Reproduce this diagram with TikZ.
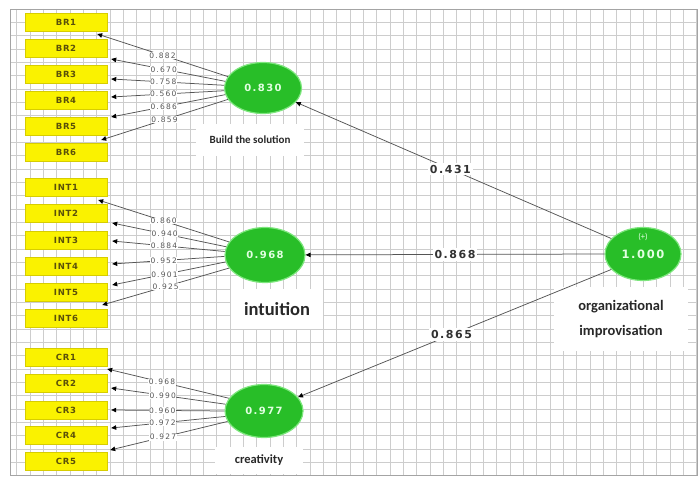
\documentclass[tikz,border=0pt]{standalone}
\usepackage{fontspec}
\setmainfont{Carlito}
\newfontfamily\boxfont{DejaVu Sans}[LetterSpace=8]
\newfontfamily\ldfont{DejaVu Sans}[LetterSpace=16]
\newfontfamily\bignum{DejaVu Sans}[LetterSpace=14]
\usetikzlibrary{arrows.meta,shapes.geometric,calc}
\definecolor{boxyellow}{RGB}{250,242,0}
\definecolor{boxedge}{RGB}{215,205,0}
\definecolor{boxtext}{RGB}{90,80,10}
\definecolor{latgreen}{RGB}{40,190,40}
\definecolor{latedge}{RGB}{125,230,125}
\definecolor{lattext}{RGB}{225,255,225}
\definecolor{linegray}{RGB}{85,85,85}
\definecolor{labgray}{RGB}{85,85,85}
\definecolor{pathtext}{RGB}{50,50,50}
\definecolor{gridc}{RGB}{205,205,205}
\definecolor{nametext}{RGB}{40,40,40}
\begin{document}
\begin{tikzpicture}[x=1pt,y=-1pt,
  gridline/.style={draw=gridc, line width=0.8pt},
  ind/.style={rectangle, fill=boxyellow, draw=boxedge, line width=0.4pt,
    minimum width=82pt, minimum height=18pt, inner sep=0pt, text=boxtext,
    font=\boxfont\bfseries\fontsize{8.5}{9}\selectfont},
  lat/.style={ellipse, fill=latgreen, draw=latedge, line width=1.2pt,
    minimum width=77pt, minimum height=51pt, inner sep=0pt, text=lattext,
    font=\bignum\bfseries\fontsize{10}{11}\selectfont},
  ld/.style={draw=linegray, line width=0.75pt,
    -{Triangle[length=5pt,width=4.5pt,color=black]}},
  ldlab/.style={fill=white, inner sep=0.5pt, text=labgray,
    font=\ldfont\fontsize{7.5}{8}\selectfont},
  pathlab/.style={fill=white, inner sep=2pt, text=pathtext,
    font=\bignum\bfseries\fontsize{11}{12}\selectfont},
  namebox/.style={fill=white, inner sep=0pt, align=center, text=nametext}
]
\useasboundingbox (0,0) rectangle (700,478);
% grid background
\fill[white] (10,9) rectangle (697,475);
\begin{scope}
\clip (10,9) rectangle (697,475);
\foreach \i in {0,...,52} \draw[gridline] ({3.33+13.333*\i},9) -- ({3.33+13.333*\i},475);
\foreach \j in {0,...,35} \draw[gridline] (10,{9+13.333*\j}) -- (697,{9+13.333*\j});
\end{scope}
\draw[draw=gridc!80!black, line width=0.8pt] (10,9) rectangle (697,475);

% white label areas
\node[namebox, minimum width=108pt, minimum height=32pt,
  font=\bfseries\fontsize{11}{12}\selectfont] (BRname) at (250,140) {Build the solution};
\node[namebox, minimum width=92pt, minimum height=40pt,
  font=\bfseries\fontsize{18.5}{20}\selectfont] (INTname) at (277,309) {intuition};
\node[namebox, minimum width=88pt, minimum height=27pt,
  font=\bfseries\fontsize{12.5}{13}\selectfont] (CRname) at (259,460) {creativity};
\node[namebox, minimum width=134pt, minimum height=64pt,
  font=\bfseries\fontsize{14.5}{25}\selectfont] (ORGname) at (621,319) {organizational\\improvisation};

% indicators
\foreach \n/\y in {1/22,2/48,3/74,4/100,5/126,6/152}
  \node[ind] (BR\n) at (66,\y) {BR\n};
\foreach \n/\y in {1/187,2/213,3/240,4/266,5/292,6/318}
  \node[ind] (INT\n) at (66,\y) {INT\n};
\foreach \n/\y in {1/357,2/383,3/410,4/435,5/461}
  \node[ind] (CR\n) at (66,\y) {CR\n};

% latent variables
\node[lat] (BRe) at (263,88) {0.830};
\node[lat, minimum width=80pt, minimum height=55pt] (INTe) at (265,255) {0.968};
\node[lat, minimum width=78pt, minimum height=53pt] (CRe) at (264,411) {0.977};
\node[lat, minimum width=76pt, minimum height=53pt,
  font=\bignum\bfseries\fontsize{11.5}{12}\selectfont] (ORGe) at (643,254) {\raisebox{-3pt}{1.000}};
\node[inner sep=0pt, text=lattext, font=\fontsize{8.5}{9}\selectfont] (ORGplus) at ($(ORGe.center)+(0,-17)$) {(+)};

% arrow tips near indicators
\coordinate (tB1) at ($(BR1.east)+(-10,12)$);
\coordinate (tB2) at ($(BR2.east)+(4,11)$);
\coordinate (tB3) at ($(BR3.east)+(4,5)$);
\coordinate (tB4) at ($(BR4.east)+(4,-3)$);
\coordinate (tB5) at ($(BR5.east)+(4,-9)$);
\coordinate (tB6) at ($(BR6.east)+(-6,-12)$);
\coordinate (tI1) at ($(INT1.east)+(-9,13)$);
\coordinate (tI2) at ($(INT2.east)+(5,10)$);
\coordinate (tI3) at ($(INT3.east)+(5,1)$);
\coordinate (tI4) at ($(INT4.east)+(5,-2)$);
\coordinate (tI5) at ($(INT5.east)+(5,-7)$);
\coordinate (tI6) at ($(INT6.east)+(-5,-13)$);
\coordinate (tC1) at ($(CR1.east)+(0,12)$);
\coordinate (tC2) at ($(CR2.east)+(4,5)$);
\coordinate (tC3) at ($(CR3.east)+(4,0)$);
\coordinate (tC4) at ($(CR4.east)+(4,-7)$);
\coordinate (tC5) at ($(CR5.east)+(3,-11)$);

% outer loadings
\draw[ld] (BRe.162) -- node[ldlab,pos=.50]{0.882} (tB1);
\draw[ld] (BRe.170) -- node[ldlab,pos=.54]{0.670} (tB2);
\draw[ld] (BRe.176) -- node[ldlab,pos=.54]{0.758} (tB3);
\draw[ld] (BRe.184) -- node[ldlab,pos=.54]{0.560} (tB4);
\draw[ld] (BRe.190) -- node[ldlab,pos=.54]{0.686} (tB5);
\draw[ld] (BRe.198) -- node[ldlab,pos=.50]{0.859} (tB6);

\draw[ld] (INTe.160) -- node[ldlab,pos=.50]{0.860} (tI1);
\draw[ld] (INTe.168) -- node[ldlab,pos=.54]{0.940} (tI2);
\draw[ld] (INTe.175) -- node[ldlab,pos=.54]{0.884} (tI3);
\draw[ld] (INTe.182) -- node[ldlab,pos=.54]{0.952} (tI4);
\draw[ld] (INTe.190) -- node[ldlab,pos=.54]{0.901} (tI5);
\draw[ld] (INTe.200) -- node[ldlab,pos=.50]{0.925} (tI6);

\draw[ld] (CRe.160) -- node[ldlab,pos=.55]{0.968} (tC1);
\draw[ld] (CRe.170) -- node[ldlab,pos=.55]{0.990} (tC2);
\draw[ld] (CRe.180) -- node[ldlab,pos=.55]{0.960} (tC3);
\draw[ld] (CRe.188) -- node[ldlab,pos=.55]{0.972} (tC4);
\draw[ld] (CRe.196) -- node[ldlab,pos=.55]{0.927} (tC5);

% path coefficients
\draw[ld] (ORGe.154) -- node[pathlab,pos=.51]{0.431} (BRe);
\draw[ld] (ORGe.west) -- node[pathlab,pos=.50]{0.868} (INTe);
\draw[ld] (ORGe.206) -- node[pathlab,pos=.51]{0.865} (CRe);
\end{tikzpicture}
\end{document}
